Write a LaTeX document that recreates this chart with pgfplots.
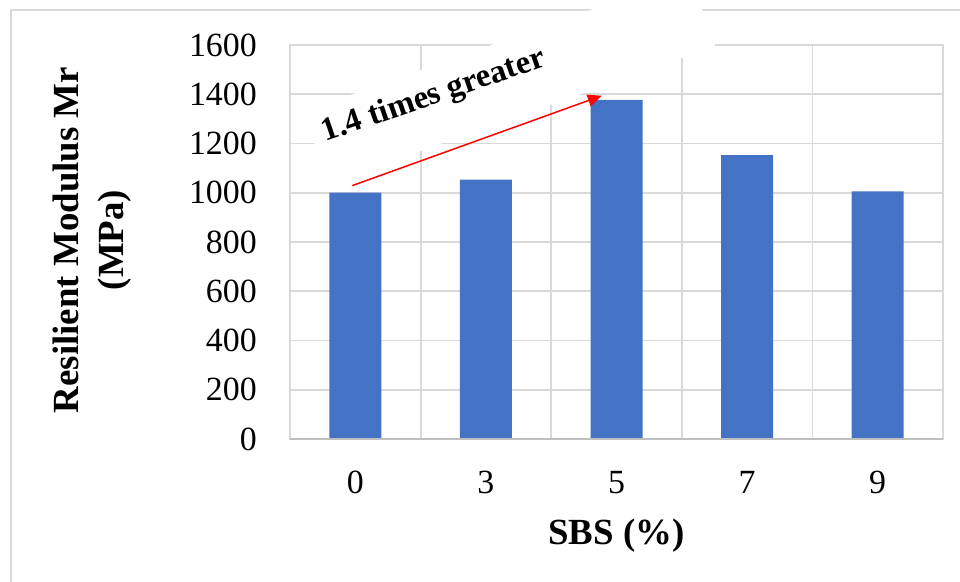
\documentclass[border=0pt]{standalone}
\usepackage{pgfplots}
\pgfplotsset{compat=1.18}
\usepackage{fontspec}
\setmainfont{Liberation Serif}
\usetikzlibrary{arrows.meta}
\definecolor{barblue}{HTML}{4472C4}
\definecolor{gridgray}{HTML}{D9D9D9}
\definecolor{axisgray}{HTML}{BFBFBF}

\begin{document}
\begin{tikzpicture}
\path[use as bounding box] (0,0) rectangle (960bp,582bp);
% chart area border
\draw[gridgray, line width=1.8bp] (11bp,0) -- (11bp,572bp) -- (960bp,572bp);
\begin{axis}[
  at={(290bp,143bp)}, anchor=south west,
  scale only axis, width=653bp, height=394bp,
  xmin=-0.5, xmax=4.5, ymin=0, ymax=1600,
  xtick={0,...,4}, xticklabels={0,3,5,7,9},
  minor xtick={-0.5,0.5,...,4.5},
  ytick={0,200,...,1600},
  xminorgrids, ymajorgrids,
  grid style={gridgray, line width=1.8bp},
  minor grid style={gridgray, line width=1.8bp},
  axis line style={gridgray, line width=1.8bp},
  major tick length=0pt, minor tick length=0pt,
  tick style={draw=none},
  tick label style={font=\fontsize{34}{40}\selectfont, inner sep=0pt},
  /pgf/number format/assume math mode=true,
  /pgf/number format/1000 sep={},
  yticklabel style={anchor=east, xshift=-33bp},
  xticklabel style={anchor=north, yshift=-32bp},
  xlabel={SBS (\%)},
  xlabel style={at={(axis description cs:0.5,-0.2462)}, anchor=center,
    font=\fontsize{37}{44}\selectfont\bfseries},
  ylabel={Resilient Modulus Mr\\(MPa)},
  ylabel style={at={(axis description cs:-0.3032,0.505)}, anchor=center,
    align=center, font=\fontsize{37}{45}\selectfont\bfseries},
  clip=false,
]
\addplot[ybar, bar width=52bp, fill=barblue, draw=none]
  coordinates {(0,1000) (1,1053) (2,1377) (3,1153) (4,1006)};
\draw[axisgray, line width=1.8bp] (axis cs:-0.5,0) -- (axis cs:4.5,0);
\coordinate (boxc) at (axis cs:1.18,1462);
\coordinate (txt)  at (axis cs:0.62,1361);
\coordinate (arrA) at (axis cs:-0.023,1029);
\coordinate (arrB) at (axis cs:1.887,1394);
\end{axis}
% annotation: text box, label and arrow from 0 % to 5 % SBS
\node[fill=white, inner sep=0pt, minimum width=410bp, minimum height=76bp,
  rotate=19.5] at (boxc) {};
\node[rotate=19, anchor=base, inner sep=0pt,
  font=\fontsize{33}{39}\selectfont\bfseries] at (txt) {1.4 times greater};
\draw[red, line width=1.5bp, -{Triangle[length=14bp, width=12bp]}] (arrA) -- (arrB);
\end{tikzpicture}
\end{document}
